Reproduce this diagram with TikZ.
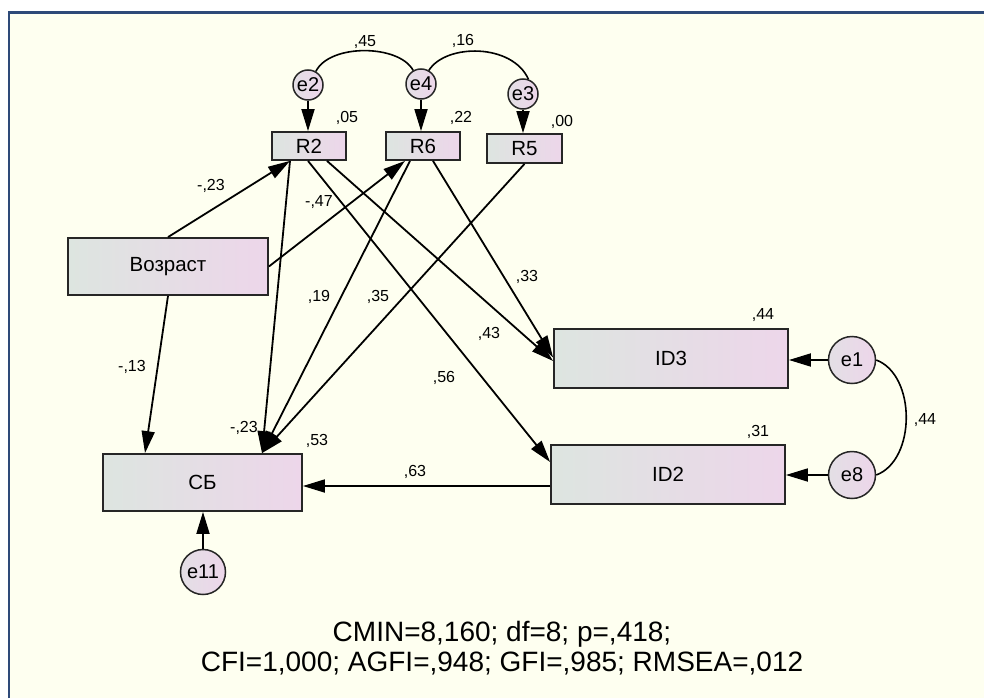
\documentclass[tikz,border=0pt]{standalone}
\usepackage{fontspec}
\setmainfont{Liberation Sans}
\usetikzlibrary{arrows.meta,calc}
\definecolor{bgyellow}{HTML}{FEFFF0}
\definecolor{frameblue}{HTML}{2E4A78}
\definecolor{boxL}{HTML}{DDE5E0}
\definecolor{boxR}{HTML}{EDD6EA}
\definecolor{circL}{HTML}{E3DFE5}
\definecolor{circR}{HTML}{EDD6EA}
\begin{document}
\begin{tikzpicture}[x=1pt,y=-1pt,
  vbox/.style={draw=black!85,line width=1.8pt,left color=boxL,right color=boxR,inner sep=0pt,font=\fontsize{20.5}{24}\selectfont},
  errc/.style={circle,draw=black!85,line width=1.5pt,left color=circL,right color=circR,inner sep=0pt,font=\fontsize{20}{22}\selectfont},
  arr/.style={line width=1.8pt,draw=black,-{Triangle[length=22pt,width=13pt]}},
  cov/.style={line width=1.6pt,draw=black},
  coef/.style={inner sep=0pt,font=\fontsize{16}{18}\selectfont},
  fitnote/.style={inner sep=0pt,align=center,font=\fontsize{28}{30}\selectfont}
]
\useasboundingbox (0,0) rectangle (984,698);
\fill[white] (0,0) rectangle (984,698);
\fill[bgyellow] (9,12.5) rectangle (984,698);
\draw[frameblue,line width=2.5pt] (9,698) -- (9,12.5) -- (984,12.5);

% observed variables
\node[vbox,minimum width=74pt,minimum height=28pt] (r2) at (309,146) {R2};
\node[vbox,minimum width=74pt,minimum height=28pt] (r6) at (423,146) {R6};
\node[vbox,minimum width=75pt,minimum height=29pt] (r5) at (524.5,148.5) {R5};
\node[vbox,minimum width=200pt,minimum height=57pt] (voz) at (168,266.5) {Возраст};
\node[vbox,minimum width=199pt,minimum height=57pt] (sb) at (202.5,482.5) {СБ};
\node[vbox,minimum width=234pt,minimum height=59pt] (id3) at (671,358.5) {ID3};
\node[vbox,minimum width=234pt,minimum height=59pt] (id2) at (668,474.5) {ID2};

% error terms
\node[errc,minimum size=30pt] (e2) at (308,85) {e2};
\node[errc,minimum size=30pt] (e4) at (421,84) {e4};
\node[errc,minimum size=30pt] (e3) at (523,94) {e3};
\node[errc,minimum size=47pt] (e1) at (852,360) {e1};
\node[errc,minimum size=47pt] (e8) at (852,475) {e8};
\node[errc,minimum size=45pt] (e11) at (203,572) {e11};

% paths
\coordinate (sbin) at ([xshift=59.5pt]sb.north);
\draw[arr] (voz.north) -- ([xshift=-19pt]r2.south);
\draw[arr] (voz.east) -- ([xshift=-18pt]r6.south);
\draw[arr] (voz.south) -- ([xshift=-57.5pt]sb.north);
\draw[arr] ([xshift=-19pt]r2.south) -- (sbin);
\draw[arr] ([xshift=-13pt]r6.south) -- (sbin);
\draw[arr] (r5.south) -- (sbin);
\draw[arr] ([xshift=-1pt]r2.south) -- ([yshift=12.5pt]id2.west);
\draw[arr] ([xshift=18pt]r2.south) -- ([yshift=-2.5pt]id3.west);
\draw[arr] ([xshift=10pt]r6.south) -- ([yshift=1pt]id3.west);
\draw[arr] ([yshift=-11.5pt]id2.west) -- ([yshift=-11.5pt]id2.west -| sb.east);
\draw[arr] (e1.west) -- (e1.west -| id3.east);
\draw[arr] (e8.west) -- (e8.west -| id2.east);
\draw[arr] (e2.south) -- (e2.south |- r2.north);
\draw[arr] (e4.south) -- (e4.south |- r6.north);
\draw[arr] (e3.south) -- (e3.south |- r5.north);
\draw[arr] (e11.north) -- (e11.north |- sb.south);

% covariances
\draw[cov] (e2.60) .. controls +(14,-28) and +(-14,-26) .. (e4.120);
\draw[cov] (e4.60) .. controls +(17,-27) and +(-16,-36) .. (e3.70);
\draw[cov] (e1.east) .. controls +(40,15) and +(40,-15) .. (e8.east);

% coefficients
\node[coef] (c45) at (365,42) {,45};
\node[coef] (c16) at (463,41) {,16};
\node[coef] (c05) at (347,118) {,05};
\node[coef] (c22) at (461,118) {,22};
\node[coef] (c00) at (562,122) {,00};
\node[coef] (cm23a) at (211,186) {-,23};
\node[coef] (cm47) at (319,202) {-,47};
\node[coef] (c19) at (319,297) {,19};
\node[coef] (c35) at (378,297) {,35};
\node[coef] (c33) at (527,277) {,33};
\node[coef] (c43) at (489,334) {,43};
\node[coef] (c56) at (444,378) {,56};
\node[coef] (cm13) at (132,367) {-,13};
\node[coef] (cm23b) at (244,428) {-,23};
\node[coef] (c53) at (317,441) {,53};
\node[coef] (c63) at (415,472) {,63};
\node[coef] (c44a) at (763,315) {,44};
\node[coef] (c31) at (758,432) {,31};
\node[coef] (c44b) at (925,420) {,44};

% fit statistics
\node[fitnote,anchor=base] (fit1) at (502,641) {CMIN=8,160; df=8; p=,418;};
\node[fitnote,anchor=base] (fit2) at (502,671) {CFI=1,000; AGFI=,948; GFI=,985; RMSEA=,012};
\end{tikzpicture}
\end{document}
